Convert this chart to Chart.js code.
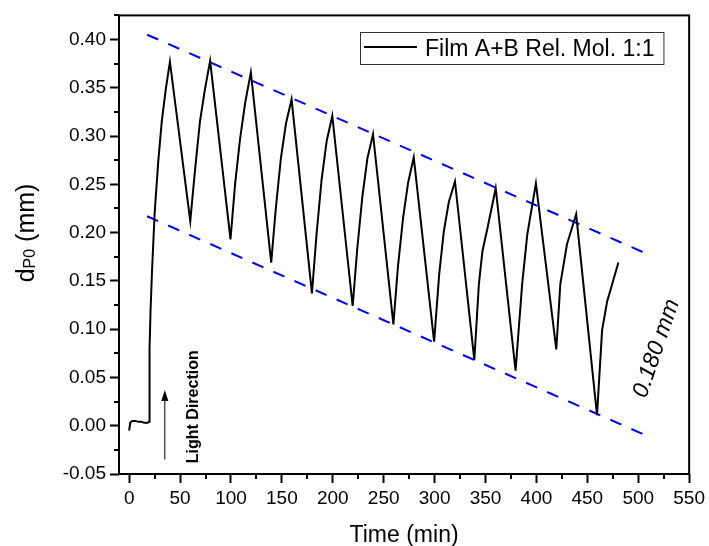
<!DOCTYPE html>
<html>
<head>
<meta charset="utf-8">
<script src="https://cdn.jsdelivr.net/npm/chart.js@4.4.0/dist/chart.umd.min.js"></script>
<style>
  html, body { margin: 0; padding: 0; background: #fff; }
</style>
</head>
<body>
<canvas id="graph" width="709" height="546"></canvas>
<script>
'use strict';

// curve (time in min, d_P0 in mm)
var timeMin = [
  0, 1, 3, 6, 9, 12, 15, 18, 19.5, 20, 21, 22.5, 25, 28.5, 32, 36, 40,
  60, 64.5, 69.5, 74.5, 79.5,
  99.5, 104, 109, 114, 119.5,
  139.5, 144, 149, 154, 159.5,
  179.5, 184, 189, 194, 199.5,
  219.5, 224, 229, 234, 239.5,
  259.5, 264, 269, 274, 279.5,
  299.5, 304.5, 309, 314, 320,
  339, 343.5, 347, 352, 360,
  379.5, 386, 391, 399.5,
  419.5, 423.5, 430, 439,
  459.5, 464.5, 469.5, 474.5, 480.5
];
var dP0 = [
  -0.005, 0.003, 0.005, 0.005, 0.004, 0.004, 0.003, 0.003, 0.004, 0.080, 0.120, 0.162, 0.220, 0.273, 0.315, 0.349, 0.377,
  0.212, 0.263, 0.315, 0.349, 0.378,
  0.193, 0.250, 0.298, 0.335, 0.366,
  0.169, 0.225, 0.277, 0.313, 0.338,
  0.137, 0.198, 0.255, 0.295, 0.321,
  0.124, 0.183, 0.237, 0.277, 0.302,
  0.105, 0.165, 0.215, 0.252, 0.278,
  0.087, 0.157, 0.201, 0.232, 0.253,
  0.068, 0.147, 0.181, 0.205, 0.246,
  0.057, 0.147, 0.198, 0.251,
  0.079, 0.147, 0.188, 0.219,
  0.011, 0.099, 0.129, 0.147, 0.169
];

// dashed envelope lines
var upperX = [17.6, 512.8];
var upperY = [0.405, 0.176];
var lowerX = [17.6, 511.8];
var lowerY = [0.217, -0.012];

// "Light Direction" arrow
var arrowX = [35, 35];
var arrowY = [-0.035, 0.037];

var xTicks = [0, 50, 100, 150, 200, 250, 300, 350, 400, 450, 500, 550];
var yTicks = [-0.05, 0.00, 0.05, 0.10, 0.15, 0.20, 0.25, 0.30, 0.35, 0.40];

var seriesLabel = 'Film A+B Rel. Mol. 1:1';
var gapLabel = '0.180 mm';
var arrowLabel = 'Light Direction';

var FONT = '"Liberation Sans", Arial, sans-serif';

function pts(xs, ys) {
  return xs.map(function(x, i) { return { x: x, y: ys[i] }; });
}

function setTicks(list) {
  return function(scale) {
    scale.ticks = list.map(function(v) { return { value: v }; });
  };
}

var decor = {
  id: 'decor',
  afterDraw: function(chart) {
    var ctx = chart.ctx;
    var a = chart.chartArea;
    var xs = chart.scales.x, ys = chart.scales.y;
    ctx.save();

    // frame
    ctx.strokeStyle = '#000';
    ctx.lineWidth = 2;
    ctx.strokeRect(a.left, a.top, a.right - a.left, a.bottom - a.top);

    // minor ticks
    ctx.lineWidth = 2;
    ctx.beginPath();
    for (var i = 0; i < xTicks.length - 1; i++) {
      var px = Math.round(xs.getPixelForValue((xTicks[i] + xTicks[i + 1]) / 2));
      ctx.moveTo(px, a.bottom);
      ctx.lineTo(px, a.bottom + 5);
    }
    for (var j = 0; j < yTicks.length; j++) {
      var v = yTicks[j] + 0.025;
      if (v > ys.max + 1e-9) continue;
      var py = Math.round(ys.getPixelForValue(v));
      ctx.moveTo(a.left, py);
      ctx.lineTo(a.left - 5, py);
    }
    ctx.stroke();

    // arrow
    var ax = xs.getPixelForValue(arrowX[0]);
    var ay0 = ys.getPixelForValue(arrowY[0]);
    var ay1 = ys.getPixelForValue(arrowY[1]);
    ctx.lineWidth = 1;
    ctx.beginPath();
    ctx.moveTo(ax, ay0);
    ctx.lineTo(ax, ay1 + 8);
    ctx.stroke();
    ctx.fillStyle = '#000';
    ctx.beginPath();
    ctx.moveTo(ax, ay1);
    ctx.lineTo(ax - 3.5, ay1 + 11);
    ctx.lineTo(ax + 3.5, ay1 + 11);
    ctx.closePath();
    ctx.fill();

    // arrow label
    ctx.save();
    ctx.translate(ax + 33, ys.getPixelForValue(0) - 19);
    ctx.rotate(-Math.PI / 2);
    ctx.font = 'bold 16px ' + FONT;
    ctx.textAlign = 'center';
    ctx.textBaseline = 'alphabetic';
    ctx.fillText(arrowLabel, 0, 0);
    ctx.restore();

    // gap label
    ctx.save();
    ctx.translate(xs.getPixelForValue(518), ys.getPixelForValue(0.08));
    ctx.rotate(-71 * Math.PI / 180);
    ctx.font = 'italic 23px ' + FONT;
    ctx.textAlign = 'center';
    ctx.textBaseline = 'middle';
    ctx.fillText(gapLabel, 0, 0);
    ctx.restore();

    // legend
    ctx.font = '23px ' + FONT;
    var tw = ctx.measureText(seriesLabel).width;
    var lx = 360, ly = 32, lh = 32;
    ctx.fillStyle = '#fff';
    ctx.fillRect(lx, ly, tw + 74, lh);
    ctx.strokeStyle = '#333';
    ctx.lineWidth = 1;
    ctx.strokeRect(lx + 0.5, ly + 0.5, tw + 74, lh);
    ctx.strokeStyle = '#000';
    ctx.lineWidth = 2;
    ctx.beginPath();
    ctx.moveTo(lx + 4, ly + 15);
    ctx.lineTo(lx + 57, ly + 15);
    ctx.stroke();
    ctx.fillStyle = '#000';
    ctx.textAlign = 'left';
    ctx.textBaseline = 'middle';
    ctx.fillText(seriesLabel, lx + 65, ly + 18);

    // y axis title with subscript
    ctx.save();
    ctx.translate(24, 233);
    ctx.rotate(-Math.PI / 2);
    var big = '25px ' + FONT, small = '16px ' + FONT;
    ctx.font = big;
    var wd = ctx.measureText('d').width;
    var wr = ctx.measureText(' (mm)').width;
    ctx.font = small;
    var ws = ctx.measureText('P0').width;
    var x0 = -(wd + ws + wr) / 2;
    ctx.textAlign = 'left';
    ctx.textBaseline = 'alphabetic';
    ctx.font = big;
    ctx.fillText('d', x0, 10);
    ctx.font = small;
    ctx.fillText('P0', x0 + wd, 11);
    ctx.font = big;
    ctx.fillText(' (mm)', x0 + wd + ws, 10);
    ctx.restore();

    ctx.restore();
  }
};

var ctx = document.getElementById('graph').getContext('2d');
var chart = new Chart(ctx, {
  type: 'line',
  data: {
    datasets: [
      {
        label: seriesLabel,
        data: pts(timeMin, dP0),
        borderColor: '#000',
        borderWidth: 2,
        pointRadius: 0,
        tension: 0,
        fill: false
      },
      {
        label: 'upper',
        data: pts(upperX, upperY),
        borderColor: '#0000ff',
        borderWidth: 2,
        borderDash: [12, 11],
        pointRadius: 0,
        fill: false
      },
      {
        label: 'lower',
        data: pts(lowerX, lowerY),
        borderColor: '#0000ff',
        borderWidth: 2,
        borderDash: [12, 11],
        pointRadius: 0,
        fill: false
      }
    ]
  },
  options: {
    responsive: false,
    animation: false,
    devicePixelRatio: 1,
    layout: { padding: { top: 13, right: 18, left: 0, bottom: 0 } },
    plugins: {
      legend: { display: false },
      tooltip: { enabled: false }
    },
    scales: {
      x: {
        type: 'linear',
        min: -10,
        max: 550,
        afterBuildTicks: setTicks(xTicks),
        afterFit: function(s) { s.height = 72; },
        border: { display: false },
        grid: { drawOnChartArea: false, tickLength: 9, tickWidth: 2, tickColor: '#000' },
        ticks: {
          color: '#000',
          font: { family: FONT, size: 19 },
          padding: 4,
          maxRotation: 0,
          callback: function(v) { return String(v); }
        },
        title: {
          display: true,
          text: 'Time (min)',
          color: '#000',
          font: { family: FONT, size: 23 },
          padding: { top: 0, bottom: -3 }
        }
      },
      y: {
        type: 'linear',
        min: -0.05,
        max: 0.425,
        afterBuildTicks: setTicks(yTicks),
        afterFit: function(s) { s.width = 119; },
        border: { display: false },
        grid: { drawOnChartArea: false, tickLength: 9, tickWidth: 2, tickColor: '#000' },
        ticks: {
          color: '#000',
          font: { family: FONT, size: 19 },
          padding: 4,
          callback: function(v) { return v.toFixed(2); }
        }
      }
    }
  },
  plugins: [decor]
});
</script>
</body>
</html>
